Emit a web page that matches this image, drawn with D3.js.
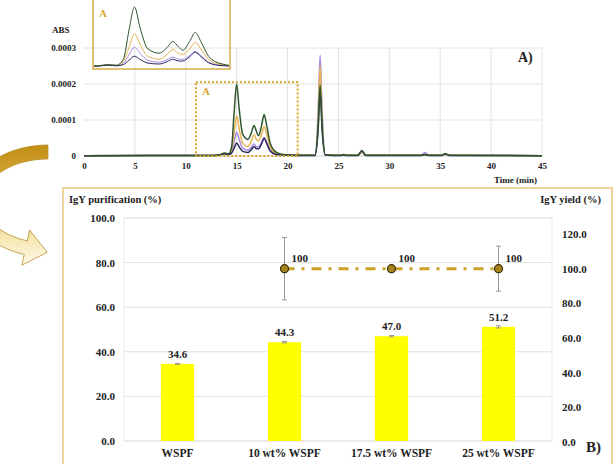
<!DOCTYPE html>
<html>
<head>
<meta charset="utf-8">
<script src="https://cdn.jsdelivr.net/npm/d3@7"></script>
<style>
  body { margin: 0; background: #fff; }
  svg text { font-family: "Liberation Serif", "DejaVu Serif", serif; font-weight: bold; fill: #222; }
</style>
</head>
<body>
<svg id="fig" width="615" height="464"></svg>
<script>
// ---- chromatogram data (ABS in units of 1e-5) ----
var ABS_UNIT = 1e-5;
var times = [0, 12.5, 13.4, 13.8, 14.2, 14.5, 14.75, 15.0, 15.25, 15.6, 16.1, 16.45, 16.7, 16.95, 17.15, 17.45, 17.7, 17.95, 18.3, 18.8, 19.5, 21, 22.7, 23.0, 23.2, 23.4, 23.7, 25.2, 25.5, 25.8, 26.9, 27.3, 27.7, 33.1, 33.5, 33.9, 35.1, 35.5, 35.9, 45];
var absPurple = [0.1, 0.12, 0.3, 0.6, 0.4, 1.2, 4.0, 6.6, 4.5, 2.2, 1.6, 2.5, 3.3, 2.6, 2.6, 3.8, 5.2, 3.8, 1.6, 0.6, 0.3, 0.15, 0.15, 12, 28, 12, 0.3, 0.15, 0.3, 0.15, 0.15, 1.0, 0.15, 0.15, 1.0, 0.15, 0.15, 0.4, 0.15, 0.1];
var absGold = [0.1, 0.14, 0.35, 0.7, 0.5, 1.8, 6.5, 11.1, 7.5, 3.5, 2.6, 4.2, 5.9, 4.5, 4.2, 6.0, 8.2, 6.0, 2.5, 0.9, 0.3, 0.2, 0.2, 10, 25, 10, 0.3, 0.2, 0.35, 0.2, 0.2, 1.2, 0.2, 0.2, 0.4, 0.2, 0.2, 0.5, 0.2, 0.1];
var absNavy = [0.1, 0.12, 0.3, 0.6, 0.4, 0.8, 2.2, 3.6, 2.5, 1.3, 1.0, 1.8, 2.6, 2.0, 2.0, 3.4, 4.9, 3.5, 1.4, 0.5, 0.25, 0.15, 0.15, 7, 18, 7, 0.3, 0.15, 0.3, 0.15, 0.15, 1.5, 0.15, 0.15, 0.4, 0.15, 0.15, 0.6, 0.15, 0.1];
var absGreen = [0.1, 0.15, 0.4, 0.8, 0.6, 2.5, 12, 20.0, 13, 6.0, 4.6, 6.5, 8.5, 6.8, 5.6, 8.5, 11.5, 8.5, 3.5, 1.2, 0.4, 0.2, 0.2, 8, 19.7, 8, 0.3, 0.2, 0.4, 0.2, 0.2, 1.4, 0.2, 0.2, 0.4, 0.2, 0.2, 0.6, 0.2, 0.1];
var traceNames = ["purple", "gold", "navy", "green"];
var traceColors = ["#a98ae6", "#e6b450", "#2c2a5c", "#2f5530"];
var absTicks = [0, 0.0001, 0.0002, 0.0003];
var timeTicks = [0, 5, 10, 15, 20, 25, 30, 35, 40, 45];

// ---- panel B data ----
var categories = ["WSPF", "10 wt% WSPF", "17.5 wt% WSPF", "25 wt% WSPF"];
var purity = [34.6, 44.3, 47.0, 51.2];
var purityErr = [0.2, 0.3, 0.3, 0.5];
var yieldVals = [null, 100, 100, 100];
var yieldErr = [null, 18, 0, 13];
var purityTicks = [0, 20, 40, 60, 80, 100];
var yieldTicks = [0, 20, 40, 60, 80, 100, 120];

var svg = d3.select('#fig');
var gold = "#d6ad45";

// ---------------- curved arrow (decoration) ----------------
var defs = svg.append('defs');
var grad = defs.append('linearGradient')
    .attr('id', 'arrowGrad')
    .attr('gradientUnits', 'userSpaceOnUse')
    .attr('x1', 0).attr('y1', 145).attr('x2', 0).attr('y2', 268);
grad.append('stop').attr('offset', '0%').attr('stop-color', '#c18d14');
grad.append('stop').attr('offset', '40%').attr('stop-color', '#deb44a');
grad.append('stop').attr('offset', '75%').attr('stop-color', '#f7e6b0');
grad.append('stop').attr('offset', '100%').attr('stop-color', '#fffaf0');

var ac = {x: 48, y: 201, a: 72, b: 49, w: 7};
function ellPt(t, da, db) { return [ac.x + (ac.a + da) * Math.cos(t), ac.y + (ac.b + db) * Math.sin(t)]; }
var tStart = -Math.PI / 2, tEnd = Math.PI * 0.6;
var ts = d3.range(0, 61).map(function(i){ return tStart - (tStart + 2 * Math.PI - tEnd) * i / 60; });
var outer = ts.map(function(t){ return ellPt(t, ac.w, ac.w); });
var inner = ts.map(function(t){ return ellPt(t, -ac.w, -ac.w); }).reverse();
// arrow head at end
var tE = ts[ts.length - 1];
var pE = ellPt(tE, 0, 0);
var tan = [ac.a * Math.sin(tE), -ac.b * Math.cos(tE)];
var tl = Math.hypot(tan[0], tan[1]); tan = [tan[0] / tl, tan[1] / tl];
var nrm = [-tan[1], tan[0]];
var headPts = [
  [pE[0] + nrm[0] * ac.w, pE[1] + nrm[1] * ac.w],
  [pE[0] + nrm[0] * 18, pE[1] + nrm[1] * 18],
  [pE[0] + tan[0] * 22, pE[1] + tan[1] * 22],
  [pE[0] - nrm[0] * 18, pE[1] - nrm[1] * 18],
  [pE[0] - nrm[0] * ac.w, pE[1] - nrm[1] * ac.w]
];
var lastOuter = outer[outer.length - 1];
var dNrm = (lastOuter[0] - pE[0]) * nrm[0] + (lastOuter[1] - pE[1]) * nrm[1];
if (dNrm < 0) headPts.reverse();
var arrowPts = outer.concat(headPts).concat(inner);
svg.append('path')
    .attr('d', d3.line()(arrowPts) + 'Z')
    .attr('fill', 'url(#arrowGrad)')
    .attr('stroke', '#b8902c')
    .attr('stroke-width', 0.8);

// ---------------- panel A: chromatogram ----------------
var xT = d3.scaleLinear().domain([0, 45]).range([84, 542]);
var yT = d3.scaleLinear().domain([0, 0.0003]).range([156, 48]);

var gA = svg.append('g');
gA.append('g').selectAll('line').data(absTicks.slice(1)).enter().append('line')
    .attr('x1', xT(0)).attr('x2', xT(45))
    .attr('y1', function(d){ return yT(d); }).attr('y2', function(d){ return yT(d); })
    .attr('stroke', '#e2e2e2');
gA.append('g').selectAll('line').data(timeTicks.slice(1)).enter().append('line')
    .attr('x1', function(d){ return xT(d); }).attr('x2', function(d){ return xT(d); })
    .attr('y1', yT(0)).attr('y2', yT(0.0003))
    .attr('stroke', '#e2e2e2');

var yAxisA = gA.append('g')
    .attr('transform', 'translate(' + xT(0) + ',0)')
    .call(d3.axisLeft(yT).tickValues(absTicks).tickSize(0).tickPadding(8)
        .tickFormat(function(d){ return d === 0 ? '0' : d.toFixed(4); }));
var xAxisA = gA.append('g')
    .attr('transform', 'translate(0,' + yT(0) + ')')
    .call(d3.axisBottom(xT).tickValues(timeTicks).tickSize(0).tickPadding(7));
[yAxisA, xAxisA].forEach(function(a){
    a.select('.domain').remove();
    a.selectAll('text').style('font-size', '9px').style('font-family', '"Liberation Serif", serif').style('font-weight', 'bold').attr('fill', '#222');
});
gA.append('line').attr('x1', xT(0)).attr('x2', xT(45)).attr('y1', yT(0)).attr('y2', yT(0)).attr('stroke', '#d0d0d0');

var series = traceNames.map(function(n, k){
    var vals = [absPurple, absGold, absNavy, absGreen][k];
    return {name: n, color: traceColors[k], pts: times.map(function(t, i){ return {t: t, v: vals[i] * ABS_UNIT}; })};
});

var lineA = d3.line().x(function(d){ return xT(d.t); }).y(function(d){ return yT(d.v); }).curve(d3.curveMonotoneX);
gA.append('g').selectAll('path').data(series).enter().append('path')
    .attr('d', function(d){ return lineA(d.pts); })
    .attr('fill', 'none').attr('stroke', function(d){ return d.color; }).attr('stroke-width', 1.5);

// dotted zoom box
gA.append('rect')
    .attr('x', xT(11)).attr('y', yT(0.000205))
    .attr('width', xT(21) - xT(11)).attr('height', yT(0) - yT(0.000205))
    .attr('fill', 'none').attr('stroke', '#d4a82a').attr('stroke-width', 2).attr('stroke-dasharray', '2,2');
gA.append('text').attr('x', xT(11) + 6).attr('y', 95).style('font-size', '11px').attr('fill', '#d4a82a').style('fill', '#d4a82a').text('A');

gA.append('text').attr('x', 52).attr('y', 33).style('font-size', '9px').text('ABS');
gA.append('text').attr('x', 537).attr('y', 183).attr('text-anchor', 'end').style('font-size', '9px').text('Time (min)');
gA.append('text').attr('x', 518).attr('y', 62).style('font-size', '14px').text('A)');

// inset
var xI = d3.scaleLinear().domain([13.2, 19.2]).range([94, 229]);
var yI = d3.scaleLinear().domain([0, 0.0002]).range([67, 7]);
defs.append('clipPath').attr('id', 'insetClip').append('rect')
    .attr('x', 94).attr('y', 0).attr('width', 135).attr('height', 68);
var lineI = d3.line().x(function(d){ return xI(d.t); }).y(function(d){ return yI(d.v); }).curve(d3.curveMonotoneX);
var gI = svg.append('g');
gI.append('g').attr('clip-path', 'url(#insetClip)')
    .selectAll('path').data(series).enter().append('path')
    .attr('d', function(d){ return lineI(d.pts.filter(function(p){ return p.t > 11 && p.t < 22; })); })
    .attr('fill', 'none').attr('stroke', function(d){ return d.color; }).attr('stroke-width', 1);
gI.append('rect').attr('x', 93).attr('y', -4).attr('width', 137).attr('height', 73)
    .attr('fill', 'none').attr('stroke', gold).attr('stroke-width', 1.5);
gI.append('text').attr('x', 99).attr('y', 17).style('font-size', '11px').style('fill', '#d4a82a').text('A');

// ---------------- panel B: bars + yield ----------------
var gB = svg.append('g');
gB.append('path').attr('d', 'M63,464 V188 H612 V464')
    .attr('fill', 'none').attr('stroke', '#e3c77a').attr('stroke-width', 1.5);

var xB = d3.scaleBand().domain(categories).range([124, 552]).paddingInner(0.69).paddingOuter(0.345);
var yL = d3.scaleLinear().domain([0, 100]).range([441, 218]);
var yR = d3.scaleLinear().domain([0, 120]).range([442, 234]);

gB.append('rect').attr('x', 124).attr('y', yL(100)).attr('width', 428).attr('height', yL(0) - yL(100))
    .attr('fill', 'none').attr('stroke', '#ececec');
gB.append('g').selectAll('line').data(purityTicks).enter().append('line')
    .attr('x1', 124).attr('x2', 552)
    .attr('y1', function(d){ return yL(d); }).attr('y2', function(d){ return yL(d); })
    .attr('stroke', '#e2e2e2');

var axL = gB.append('g').attr('transform', 'translate(124,0)')
    .call(d3.axisLeft(yL).tickValues(purityTicks).tickSize(0).tickPadding(9).tickFormat(d3.format('.1f')));
var axR = gB.append('g').attr('transform', 'translate(552,0)')
    .call(d3.axisRight(yR).tickValues(yieldTicks).tickSize(0).tickPadding(10).tickFormat(d3.format('.1f')));
var axX = gB.append('g').attr('transform', 'translate(0,441)')
    .call(d3.axisBottom(xB).tickSize(0).tickPadding(8));
[axL, axR, axX].forEach(function(a){
    a.select('.domain').remove();
    a.selectAll('text').style('font-size', '11px').style('font-family', '"Liberation Serif", serif').style('font-weight', 'bold').attr('fill', '#222');
});
axX.selectAll('text').style('font-size', '11.5px');

gB.append('g').selectAll('rect').data(categories).enter().append('rect')
    .attr('x', function(d){ return xB(d); })
    .attr('y', function(d, i){ return yL(purity[i]); })
    .attr('width', xB.bandwidth())
    .attr('height', function(d, i){ return yL(0) - yL(purity[i]); })
    .attr('fill', '#ffff00');

function errBar(g, cx, yTop, yBot) {
    g.append('line').attr('x1', cx).attr('x2', cx).attr('y1', yTop).attr('y2', yBot).attr('stroke', '#999').attr('stroke-width', 1);
    g.append('line').attr('x1', cx - 2.5).attr('x2', cx + 2.5).attr('y1', yTop).attr('y2', yTop).attr('stroke', '#999');
    g.append('line').attr('x1', cx - 2.5).attr('x2', cx + 2.5).attr('y1', yBot).attr('y2', yBot).attr('stroke', '#999');
}
categories.forEach(function(c, i){
    var cx = xB(c) + xB.bandwidth() / 2;
    errBar(gB, cx, yL(purity[i] + purityErr[i]), yL(purity[i] - purityErr[i]));
    gB.append('text').attr('x', cx).attr('y', yL(purity[i]) - 6).attr('text-anchor', 'middle')
        .style('font-size', '11px').text(purity[i].toFixed(1));
});

// yield series
var yPts = categories.map(function(c, i){ return {c: c, v: yieldVals[i], e: yieldErr[i]}; })
    .filter(function(d){ return d.v !== null; });
var cxB = function(d){ return xB(d.c) + xB.bandwidth() / 2; };
yPts.forEach(function(d){
    if (d.e > 0) errBar(gB, cxB(d), yR(d.v + d.e), yR(d.v - d.e));
});
gB.append('path')
    .attr('d', d3.line().x(cxB).y(function(d){ return yR(d.v); })(yPts))
    .attr('fill', 'none').attr('stroke', '#c9a227').attr('stroke-width', 3)
    .attr('stroke-dasharray', '10,7,3,7');
gB.append('g').selectAll('circle').data(yPts).enter().append('circle')
    .attr('cx', cxB).attr('cy', function(d){ return yR(d.v); }).attr('r', 4)
    .attr('fill', '#a8841c').attr('stroke', '#3a2c05').attr('stroke-width', 1.2);
gB.append('g').selectAll('text').data(yPts).enter().append('text')
    .attr('x', function(d){ return cxB(d) + 7; }).attr('y', function(d){ return yR(d.v) - 7; })
    .style('font-size', '11px').text(function(d){ return d.v; });

gB.append('text').attr('x', 69).attr('y', 203).style('font-size', '10.5px').text('IgY purification (%)');
gB.append('text').attr('x', 601).attr('y', 203).attr('text-anchor', 'end').style('font-size', '10.5px').text('IgY yield (%)');
gB.append('text').attr('x', 586).attr('y', 452).style('font-size', '15px').text('B)');
</script>
</body>
</html>
